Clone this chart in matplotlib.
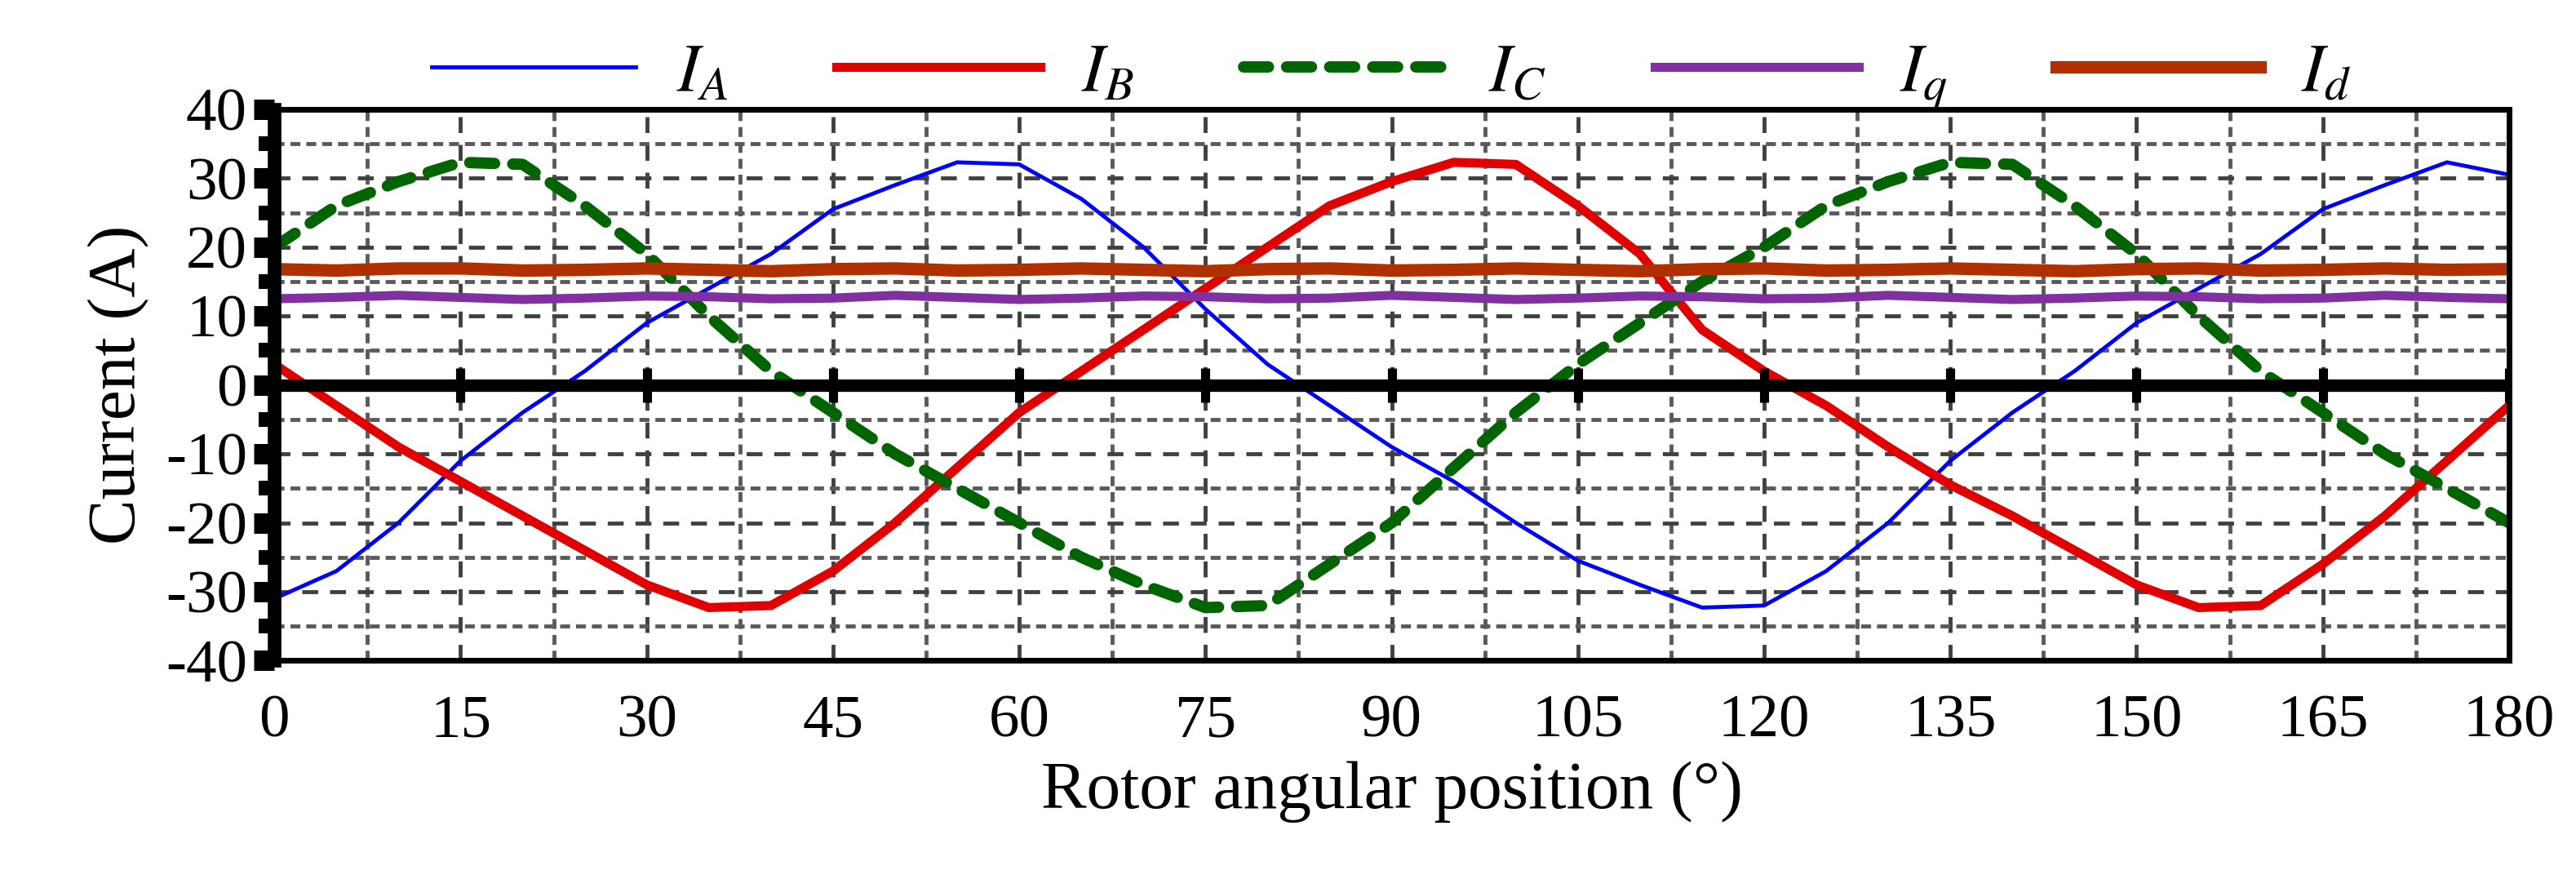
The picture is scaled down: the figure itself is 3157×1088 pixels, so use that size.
import matplotlib
matplotlib.use("Agg")
import matplotlib.pyplot as plt
import numpy as np
from matplotlib.ticker import MultipleLocator

plt.rcParams['font.family'] = ['Liberation Serif', 'DejaVu Serif']
plt.rcParams['mathtext.fontset'] = 'stix'
plt.rcParams['axes.unicode_minus'] = False

angle = list(range(0, 181, 5))
i_a = [-31, -27, -20, -11, -4, 2, 9, 14, 19, 25.5, 29, 32.3, 32.0, 27, 20, 11, 3, -3, -9, -14, -20,
       -25.5, -29, -32.3, -32.0, -27, -20, -11, -4, 2, 9, 14, 19, 25.5, 29, 32.3, 30.5]
i_b = [3, -3, -9, -14, -19, -24, -29, -32.3, -32.0, -27, -20, -12, -4, 2, 8, 14, 20, 26, 29.5, 32.3, 32.0,
       26, 19, 8, 2, -3, -9, -14.5, -19, -24, -29, -32.3, -32.0, -26, -19, -11, -3]
i_c = [20, 26, 29.5, 32.3, 32.0, 26, 19, 10, 2, -4, -10, -15, -20, -25, -29, -32.3, -32.0, -26, -20, -12, -4,
       3, 9, 15, 20, 26, 29.5, 32.3, 32.0, 26, 19, 10, 2, -4, -10, -15, -20]
i_q = [12.5, 12.7, 13.0, 12.7, 12.4, 12.6, 12.9, 12.8, 12.5, 12.6, 13.0, 12.7, 12.4, 12.6, 12.9, 12.8, 12.5,
       12.6, 13.0, 12.7, 12.4, 12.6, 12.9, 12.8, 12.5, 12.6, 13.0, 12.7, 12.4, 12.6, 12.9, 12.8, 12.5,
       12.6, 13.0, 12.7, 12.5]
i_d = [16.8, 16.6, 16.9, 16.9, 16.6, 16.7, 16.9, 16.7, 16.5, 16.8, 16.9, 16.6, 16.7, 16.9, 16.7, 16.5,
       16.8, 16.9, 16.6, 16.7, 16.9, 16.7, 16.5, 16.8, 16.9, 16.6, 16.7, 16.9, 16.7, 16.5, 16.8, 16.9,
       16.6, 16.7, 16.9, 16.7, 16.8]
x_ticks = list(range(0, 181, 15))
y_ticks = list(range(-40, 41, 10))

fig = plt.figure(figsize=(31.57, 10.88), dpi=100)
ax = fig.add_axes([0.1065, 0.256, 0.8675, 0.621])

ax.set_xlim(0, 180)
ax.set_ylim(-40, 40)
ax.set_xticks(x_ticks)
ax.set_yticks(y_ticks)
ax.xaxis.set_minor_locator(MultipleLocator(7.5))
ax.yaxis.set_minor_locator(MultipleLocator(5))
ax.grid(which='major', color='#404040', linestyle=(0, (4, 3)), linewidth=3.5)
ax.grid(which='minor', color='#5a5a5a', linestyle=(0, (2.5, 1.5)), linewidth=3.5)
ax.set_axisbelow(True)

l1, = ax.plot(angle, i_a, color='#0000ff', lw=3.5, label='$I_A$')
l2, = ax.plot(angle, i_b, color='#e00000', lw=8, label='$I_B$')
l3, = ax.plot(angle, i_c, color='#006400', lw=10, ls=(0, (2.2, 1.6)), dash_capstyle='round', label='$I_C$')
l4, = ax.plot(angle, i_q, color='#8030a0', lw=8, label='$I_q$')
l5, = ax.plot(angle, i_d, color='#b03000', lw=11, label='$I_d$')

ax.axhline(0, color='black', lw=11, zorder=5)
for xt in x_ticks[1:]:
    ax.plot([xt, xt], [-2.5, 2.5], color='black', lw=8, zorder=6, solid_capstyle='butt')

for s in ['top', 'right', 'bottom']:
    ax.spines[s].set_linewidth(5)
ax.spines['left'].set_linewidth(12)
ax.tick_params(axis='x', which='both', length=0, labelsize=54, pad=30)
ax.tick_params(axis='y', which='major', length=18, width=18, labelsize=54, pad=6)
ax.tick_params(axis='y', which='minor', length=14, width=13)

ax.set_xlabel('Rotor angular position (°)', fontsize=60, labelpad=10)
ax.set_ylabel('Current (A)', fontsize=60, labelpad=14)

fig.legend(handles=[l1, l2, l3, l4, l5], loc='upper center', bbox_to_anchor=(0.54, 1.02), ncol=5,
           frameon=False, fontsize=60, handlelength=3.0, columnspacing=1.6, handletextpad=0.6)

fig.savefig('out.png', dpi=100)
